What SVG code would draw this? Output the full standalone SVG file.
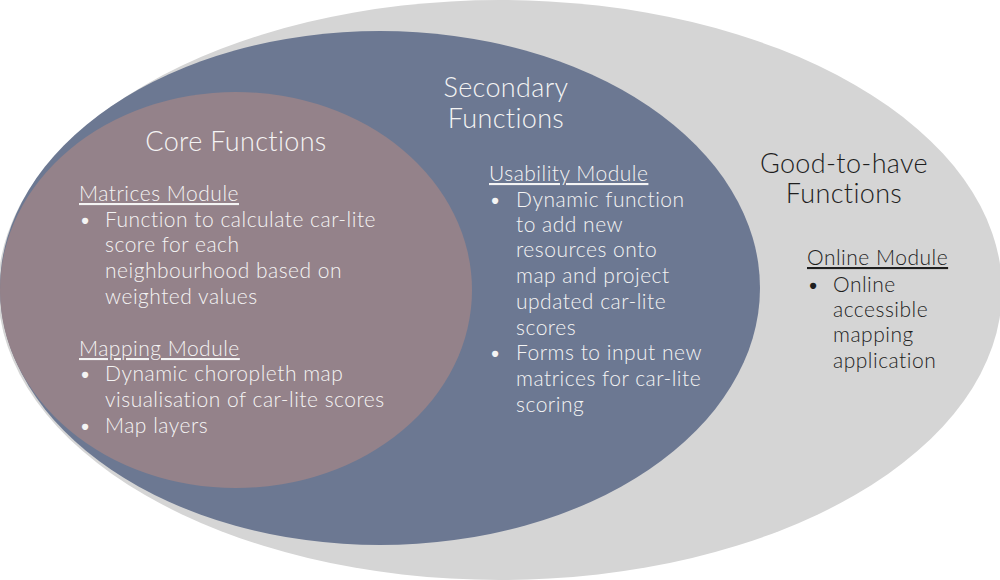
<svg xmlns="http://www.w3.org/2000/svg" width="1000" height="580" viewBox="0 0 1000 580">
  <style>
    .t { font-family: Lato, "Noto Sans", "Liberation Sans", sans-serif; font-weight: 300; }
    .title { font-size: 27px; text-anchor: middle; letter-spacing: 0.35px; }
    .body { font-size: 21px; letter-spacing: 0.5px; }
    .w { fill: #F4F4F4; }
    .k { fill: #1E1E1E; }
    .u { text-decoration: underline; }
  </style>
  <rect width="1000" height="580" fill="#FFFFFF"/>
  <g id="good-to-have">
    <ellipse cx="500" cy="290" rx="502" ry="290" fill="#D5D5D5"/>
    <text class="t title k" x="844" y="173">Good-to-have</text>
    <text class="t title k" x="844" y="203">Functions</text>
    <text class="t body k u" x="807" y="265">Online Module</text>
    <text class="t body k" x="807" y="292">•</text>
    <text class="t body k" x="833" y="292">Online</text>
    <text class="t body k" x="833" y="317">accessible</text>
    <text class="t body k" x="833" y="342">mapping</text>
    <text class="t body k" x="833" y="368">application</text>
  </g>
  <g id="secondary">
    <ellipse cx="380" cy="288" rx="380" ry="257" fill="#6C7892"/>
    <text class="t title w" x="506" y="97">Secondary</text>
    <text class="t title w" x="506" y="128">Functions</text>
    <text class="t body w u" x="489" y="181">Usability Module</text>
    <text class="t body w" x="489" y="207">•</text>
    <text class="t body w" x="516" y="207">Dynamic function</text>
    <text class="t body w" x="516" y="232">to add new</text>
    <text class="t body w" x="516" y="257">resources onto</text>
    <text class="t body w" x="516" y="283">map and project</text>
    <text class="t body w" x="516" y="309">updated car-lite</text>
    <text class="t body w" x="516" y="335">scores</text>
    <text class="t body w" x="489" y="360">•</text>
    <text class="t body w" x="516" y="360">Forms to input new</text>
    <text class="t body w" x="516" y="386">matrices for car-lite</text>
    <text class="t body w" x="516" y="412">scoring</text>
  </g>
  <g id="core">
    <ellipse cx="236" cy="290" rx="236" ry="198" fill="#94828A"/>
    <text class="t title w" x="236" y="151">Core Functions</text>
    <text class="t body w u" x="79" y="201">Matrices Module</text>
    <text class="t body w" x="79" y="227">•</text>
    <text class="t body w" x="105" y="227">Function to calculate car-lite</text>
    <text class="t body w" x="105" y="252">score for each</text>
    <text class="t body w" x="105" y="278">neighbourhood based on</text>
    <text class="t body w" x="105" y="304">weighted values</text>
    <text class="t body w u" x="79" y="356">Mapping Module</text>
    <text class="t body w" x="79" y="381">•</text>
    <text class="t body w" x="105" y="381">Dynamic choropleth map</text>
    <text class="t body w" x="105" y="407">visualisation of car-lite scores</text>
    <text class="t body w" x="79" y="433">•</text>
    <text class="t body w" x="105" y="433">Map layers</text>
  </g>
  <g id="connectors"/>
</svg>
